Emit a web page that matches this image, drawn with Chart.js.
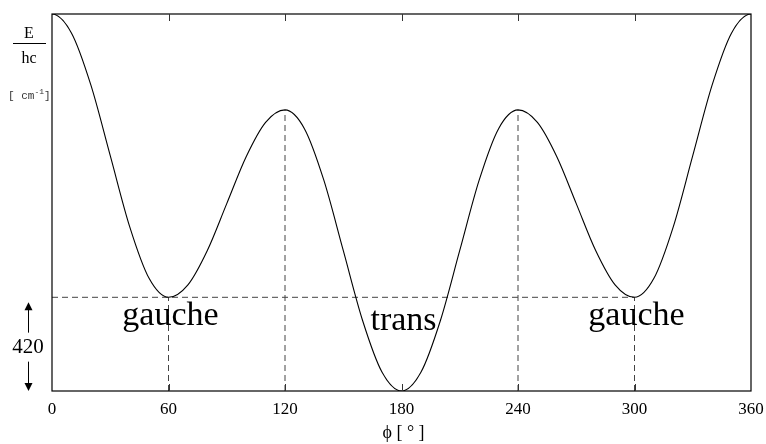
<!DOCTYPE html>
<html>
<head>
<meta charset="utf-8">
<script src="https://cdn.jsdelivr.net/npm/chart.js@4"></script>
<style>
  body { margin: 0; background: #fff; }
  #wrap { width: 766px; height: 444px; }
</style>
</head>
<body>
<div id="wrap"><canvas id="myChart" width="766" height="444"></canvas></div>
<script>
// torsion angle (deg) and energy E/hc (cm-1)
// (one extra point each side, the curve is periodic, so the ends come out flat)
const angles = [-10, 0, 10, 20, 30, 40, 50, 60, 70, 80, 90, 100, 110, 120, 130, 140, 150, 160, 170, 180,
  190, 200, 210, 220, 230, 240, 250, 260, 270, 280, 290, 300, 310, 320, 330, 340, 350, 360, 370];
const energy = [1605, 1690, 1605, 1372, 1055, 737, 505, 420, 476, 630, 840, 1050, 1204, 1260, 1176, 945, 630, 315, 84, 0,
  84, 315, 630, 945, 1176, 1260, 1204, 1050, 840, 630, 476, 420, 505, 737, 1055, 1372, 1605, 1690, 1605];

const xTicks = [0, 60, 120, 180, 240, 300, 360];
const minima = [60, 300];        // gauche
const maxima = [120, 240];
const gaucheLevel = 420;
const conformers = [
  { label: 'gauche', x: 60 },
  { label: 'trans', x: 180 },
  { label: 'gauche', x: 300 },
];

const dashColor = '#444';
const dashed = (pts) => ({
  data: pts,
  borderColor: dashColor,
  borderWidth: 1,
  borderDash: [6, 4],
  pointRadius: 0,
  tension: 0,
});

const valueAt = (a) => energy[angles.indexOf(a)];

const datasets = [
  {
    data: angles.map((a, i) => ({ x: a, y: energy[i] })),
    borderColor: '#000',
    borderWidth: 1.1,
    pointRadius: 0,
    cubicInterpolationMode: 'monotone',
  },
  dashed([{ x: 0, y: gaucheLevel }, { x: minima[1], y: gaucheLevel }]),
  ...minima.concat(maxima).map(a => dashed([{ x: a, y: 0 }, { x: a, y: valueAt(a) }])),
];

// frame, inner ticks, left labels, conformer names
const decor = {
  id: 'decor',
  afterDatasetsDraw(chart) {
    const { ctx, chartArea: ca, scales } = chart;
    const xs = scales.x, ys = scales.y;
    ctx.save();
    ctx.strokeStyle = '#000';
    ctx.lineWidth = 1.2;
    ctx.strokeRect(ca.left, ca.top, ca.right - ca.left, ca.bottom - ca.top);

    ctx.lineWidth = 1;
    ctx.strokeStyle = '#333';
    xTicks.slice(1, -1).forEach(v => {
      const px = Math.round(xs.getPixelForValue(v)) + 0.5;
      ctx.beginPath();
      ctx.moveTo(px, ca.top); ctx.lineTo(px, ca.top + 7);
      ctx.moveTo(px, ca.bottom); ctx.lineTo(px, ca.bottom - 7);
      ctx.stroke();
    });

    // E / hc  [cm-1]
    ctx.fillStyle = '#000';
    ctx.textAlign = 'center';
    ctx.textBaseline = 'alphabetic';
    ctx.font = '16px "Liberation Serif"';
    ctx.fillText('E', 29, 38);
    ctx.fillText('hc', 29, 63);
    ctx.beginPath();
    ctx.lineWidth = 1;
    ctx.strokeStyle = '#000';
    ctx.moveTo(13, 43.5); ctx.lineTo(46, 43.5);
    ctx.stroke();
    ctx.fillStyle = '#333';
    ctx.font = '11px "Liberation Mono"';
    ctx.textAlign = 'left';
    ctx.fillText('[ cm', 8, 99);
    const w = ctx.measureText('[ cm').width;
    ctx.font = '8px "Liberation Mono"';
    ctx.fillText('-1', 8 + w, 94);
    const w2 = ctx.measureText('-1').width;
    ctx.font = '11px "Liberation Mono"';
    ctx.fillText(']', 8 + w + w2, 99);
    ctx.fillStyle = '#000';

    // 420 with arrows
    const yTop = ys.getPixelForValue(gaucheLevel) + 5;
    const yBot = ys.getPixelForValue(0);
    const ax = 28;
    ctx.font = '21px "Liberation Serif"';
    ctx.textAlign = 'center';
    ctx.textBaseline = 'middle';
    const yMid = (yTop + yBot) / 2;
    ctx.fillText(String(gaucheLevel), ax, yMid + 1);
    ctx.beginPath();
    ctx.moveTo(ax + 0.5, yTop + 6); ctx.lineTo(ax + 0.5, yMid - 14);
    ctx.moveTo(ax + 0.5, yMid + 15); ctx.lineTo(ax + 0.5, yBot - 6);
    ctx.stroke();
    ctx.beginPath();
    ctx.moveTo(ax + 0.5, yTop); ctx.lineTo(ax - 3.5, yTop + 8); ctx.lineTo(ax + 4.5, yTop + 8); ctx.closePath();
    ctx.moveTo(ax + 0.5, yBot); ctx.lineTo(ax - 3.5, yBot - 8); ctx.lineTo(ax + 4.5, yBot - 8); ctx.closePath();
    ctx.fill();

    // conformer names
    ctx.font = '34px "Liberation Serif"';
    ctx.textBaseline = 'alphabetic';
    conformers.forEach(c => {
      const dy = c.label === 'trans' ? 33 : 28;
      ctx.fillText(c.label, xs.getPixelForValue(c.x) + 2, ys.getPixelForValue(gaucheLevel) + dy);
    });

    // axis title
    ctx.font = '18px "Liberation Serif"';
    ctx.textBaseline = 'middle';
    ctx.fillText('ϕ [ ° ]', (ca.left + ca.right) / 2 + 2, 433);
    ctx.restore();
  }
};

const ctx = document.getElementById('myChart').getContext('2d');
const myChart = new Chart(ctx, {
  type: 'line',
  data: { datasets },
  plugins: [decor],
  options: {
    responsive: false,
    animation: false,
    layout: { padding: { left: 52, right: 15, top: 14, bottom: 0 } },
    plugins: {
      legend: { display: false },
      tooltip: { enabled: false },
    },
    scales: {
      x: {
        type: 'linear',
        min: 0,
        max: 360,
        afterBuildTicks: (axis) => { axis.ticks = xTicks.map(v => ({ value: v })); },
        afterFit: (axis) => { axis.height = 53; axis.paddingLeft = 0; axis.paddingRight = 0; },
        grid: { display: false, drawTicks: false },
        border: { display: false },
        ticks: {
          padding: 8,
          color: '#000',
          maxRotation: 0,
          font: { family: 'Liberation Serif', size: 17 },
        },
      },
      y: {
        display: false,
        min: 0,
        max: 1690,
      },
    },
  },
});
</script>
</body>
</html>
